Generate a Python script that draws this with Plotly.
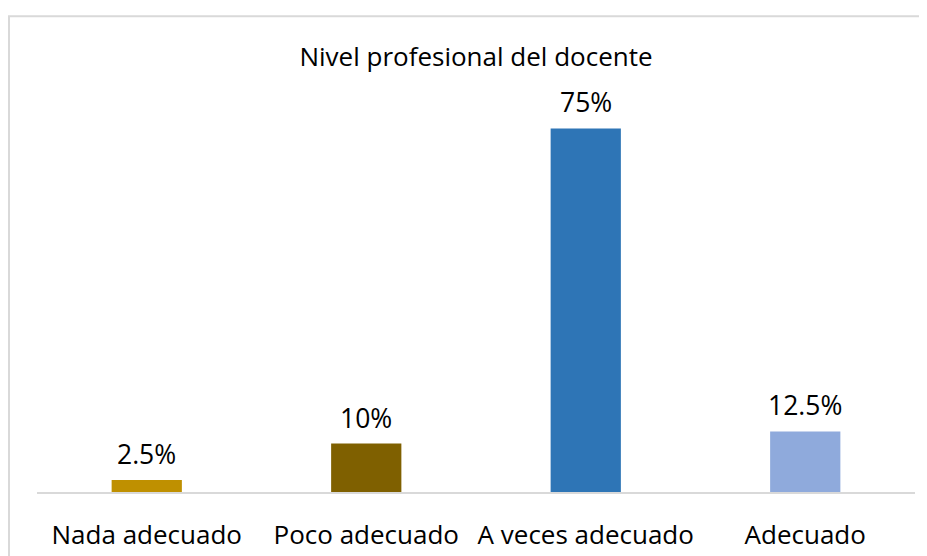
import plotly.graph_objects as go

categories = ["Nada adecuado", "Poco adecuado", "A veces adecuado", "Adecuado"]
values = [2.5, 10, 75, 12.5]
value_labels = ["2.5%", "10%", "75%", "12.5%"]
colors = ["#BF9000", "#7F6000", "#2E75B6", "#8FAADC"]

FONT = "Open Sans"

fig = go.Figure(go.Bar(x=categories, y=values, marker=dict(color=colors, line=dict(width=0)),
                       hoverinfo="skip"))

for c, v, t in zip(categories, values, value_labels):
    fig.add_annotation(x=c, y=v, text=t, showarrow=False, yanchor="bottom", yshift=6,
                       font=dict(family=FONT, size=26.5, color="#000000"))

# page body has an 8px margin, so the figure is laid out relative to (8, 8)
W, H = 927, 556
L, R, T, B = 29, 20, 72, 70
pw, ph = W - L - R, H - T - B
fig.add_shape(type="rect", xref="paper", yref="paper",
              x0=(1 - L) / pw, x1=(W + 5 - L) / pw,
              y0=-(B + 5) / ph, y1=(ph + T - 8) / ph,
              line=dict(color="#d9d9d9", width=2), fillcolor="rgba(0,0,0,0)", layer="below")

fig.update_layout(
    width=W, height=H,
    margin=dict(l=L, r=R, t=T, b=B),
    paper_bgcolor="white", plot_bgcolor="white",
    bargap=0.68,
    showlegend=False,
    title=dict(text="Nivel profesional del docente", x=0.5, xref="paper", xanchor="center",
               y=1 - 49 / H, yref="container", yanchor="middle",
               font=dict(family=FONT, size=26, color="#000000")),
    xaxis=dict(showline=True, linecolor="#d9d9d9", linewidth=2, ticks="", showgrid=False,
               tickfont=dict(family=FONT, size=26, color="#000000"), ticklabelstandoff=19),
    yaxis=dict(range=[0, 85], visible=False, showgrid=False, zeroline=False),
)

fig.write_html("out.html")
